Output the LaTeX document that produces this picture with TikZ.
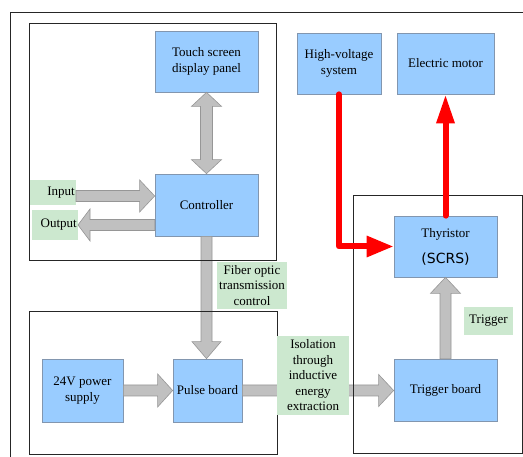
\documentclass[tikz,border=0pt]{standalone}
\usepackage{fontspec}
\setmainfont{Liberation Serif}
\newfontfamily\diagfont{Liberation Serif}
\newfontfamily\scrsfont{DejaVu Sans}
\usetikzlibrary{calc,arrows.meta}

\definecolor{boxblue}{RGB}{153,204,255}
\definecolor{boxedge}{RGB}{130,150,175}
\definecolor{lblgreen}{RGB}{204,232,207}
\definecolor{arrgray}{RGB}{192,192,192}
\definecolor{arredge}{RGB}{150,150,150}

\newcommand{\fatarrow}[5]{%
  \coordinate (fa) at ($(#2)!#5!(#1)$);
  \draw[fatshape] ($(#1)!#3!90:(#2)$) -- ($(fa)!#3!-90:(#1)$) -- ($(fa)!#4!-90:(#1)$) -- (#2)
    -- ($(fa)!#4!90:(#1)$) -- ($(fa)!#3!90:(#1)$) -- ($(#1)!#3!-90:(#2)$) -- cycle;}
\newcommand{\dfatarrow}[5]{%
  \coordinate (fa) at ($(#2)!#5!(#1)$);
  \coordinate (fb) at ($(#1)!#5!(#2)$);
  \draw[fatshape] (#1) -- ($(fb)!#4!90:(#2)$) -- ($(fb)!#3!90:(#2)$) -- ($(fa)!#3!-90:(#1)$)
    -- ($(fa)!#4!-90:(#1)$) -- (#2) -- ($(fa)!#4!90:(#1)$) -- ($(fa)!#3!90:(#1)$)
    -- ($(fb)!#3!-90:(#2)$) -- ($(fb)!#4!-90:(#2)$) -- cycle;}

\begin{document}
\begin{tikzpicture}[x=1pt,y=-1pt,
  blockbox/.style={draw=boxedge, line width=0.7pt, fill=boxblue, align=center, inner sep=1pt,
    font=\diagfont\fontsize{13}{15.5}\selectfont},
  greenlbl/.style={fill=lblgreen, align=center, inner sep=1pt, font=\diagfont\fontsize{13}{15.5}\selectfont},
  fatshape/.style={draw=arredge, line width=0.6pt, fill=arrgray},
  frameline/.style={draw=black!85, line width=0.8pt},
  redline/.style={draw=red, line width=6pt, line cap=round, line join=round}]

  \useasboundingbox (0,0) rectangle (523,457);

  \node[blockbox, minimum width=103pt, minimum height=61pt] (touch) at (206.5,61.5) {Touch screen\\display panel};
  \node[blockbox, minimum width=103pt, minimum height=62pt] (ctrl) at (206.5,205) {Controller};
  \node[blockbox, minimum width=84pt, minimum height=61pt] (hv) at (339,63.5) {High-voltage\\system};
  \node[blockbox, minimum width=97pt, minimum height=61pt] (motor) at (445.5,63.5) {Electric motor};
  \node[blockbox, minimum width=103pt, minimum height=61pt] (thy) at (445.5,246.5)
    {Thyristor\\[10.5pt]{\scrsfont\fontsize{14}{17}\selectfont (SCRS)}};
  \node[blockbox, minimum width=103pt, minimum height=62pt] (trig) at (445.5,390) {Trigger board};
  \node[blockbox, minimum width=81pt, minimum height=63pt] (psu) at (82.5,390.5) {24V power\\supply};
  \node[blockbox, minimum width=69pt, minimum height=63pt] (pulse) at (207.5,390.5) {Pulse board};

  \coordinate (inL) at (76,192.5);
  \coordinate (outL) at (78,225);
  \node[greenlbl, minimum width=46pt, minimum height=25pt, anchor=east, text width=44pt, align=right] (input) at (inL) {Input};
  \node[greenlbl, minimum width=46pt, minimum height=30pt, anchor=east, text width=44pt, align=right] (output) at (outL) {Output};

  \coordinate (inS) at ($(input.east)+(0,3.5)$);
  \coordinate (inE) at (inS -| ctrl.west);
  \coordinate (outS) at (ctrl.west |- output.east);
  \coordinate (cpE) at (ctrl.south |- pulse.north);
  \coordinate (ptE) at (pulse.east -| trig.west);

  \dfatarrow{touch.south}{ctrl.north}{6pt}{15pt}{14pt}
  \fatarrow{inS}{inE}{5.5pt}{16pt}{15pt}
  \fatarrow{outS}{output.east}{5.5pt}{16pt}{12pt}
  \fatarrow{ctrl.south}{cpE}{5.5pt}{14.5pt}{17pt}
  \fatarrow{psu.east}{pulse.west}{5.5pt}{16.5pt}{15pt}
  \fatarrow{pulse.east}{ptE}{5.5pt}{16pt}{15pt}
  \fatarrow{trig.north}{thy.south}{5.5pt}{15pt}{16pt}

  \draw[frameline] (523,12) -- (10,12) -- (10,457);
  \draw[frameline] (29,23) rectangle (276,260);
  \draw[frameline] (29,311) rectangle (277,454);
  \draw[frameline] (353,195) rectangle (522,453);

  \draw[redline, -{Triangle[length=27pt,width=20pt]}] (hv.south) |- (thy.west);
  \draw[redline, -{Triangle[length=29pt,width=17pt]}] (thy.north) -- (motor.south);

  \node[greenlbl, minimum width=70pt, minimum height=47pt] (fiber) at (252,285.5) {Fiber optic\\transmission\\control};
  \node[greenlbl, minimum width=72pt, minimum height=79pt] (iso) at (313,375.5) {Isolation\\through\\inductive\\energy\\extraction};
  \node[greenlbl, minimum width=49pt, minimum height=28pt] (triglbl) at (488.5,321) {Trigger};
\end{tikzpicture}
\end{document}
